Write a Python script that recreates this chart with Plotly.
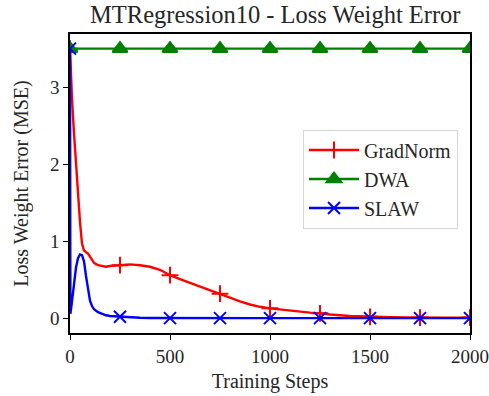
import numpy as np
import plotly.graph_objects as go

steps = [0, 2, 10, 20, 30, 40, 50, 60, 70, 80, 90, 100, 110, 120, 140, 160, 180, 200,
         250, 300, 350, 400, 450, 500, 550, 600, 650, 700, 750, 800, 850, 900, 950,
         1000, 1100, 1200, 1250, 1300, 1400, 1500, 1600, 1700, 1750, 1800, 1900, 2000]

gradnorm = [3.5, 3.35, 2.85, 2.4, 2.0, 1.6, 1.25, 0.97, 0.88, 0.86, 0.84, 0.80, 0.76, 0.72,
            0.69, 0.68, 0.67, 0.68, 0.69, 0.70, 0.69, 0.67, 0.63, 0.56, 0.51, 0.46, 0.41,
            0.36, 0.32, 0.27, 0.22, 0.18, 0.15, 0.13, 0.10, 0.075, 0.065, 0.05, 0.03,
            0.02, 0.015, 0.012, 0.01, 0.01, 0.01, 0.01]

dwa = [3.5] * len(steps)

slaw = [3.5, 0.06, 0.22, 0.46, 0.66, 0.78, 0.83, 0.82, 0.74, 0.55, 0.36, 0.23, 0.16, 0.12,
        0.08, 0.055, 0.04, 0.03, 0.02, 0.012, 0.008, 0.005, 0.004, 0.003, 0.003, 0.003,
        0.003, 0.003, 0.003, 0.003, 0.003, 0.003, 0.003, 0.003, 0.003, 0.003, 0.003,
        0.003, 0.003, 0.003, 0.003, 0.003, 0.003, 0.003, 0.003, 0.003]

names = ["GradNorm", "DWA", "SLAW"]
colors = ["red", "green", "blue"]
symbols = ["cross-thin-open", "triangle-up", "x-thin-open"]
series = [gradnorm, dwa, slaw]

FONT = "Liberation Serif"
TXT = "#262626"
fig = go.Figure()
x = np.array(steps)
mask = (x % 250 == 0)
for name, col, sym, ys in zip(names, colors, symbols, series):
    y = np.array(ys)
    fig.add_trace(go.Scatter(x=x, y=y, mode="lines", line=dict(color=col, width=2.4),
                             showlegend=False, hoverinfo="skip"))
    msize = 13 if sym == "triangle-up" else 12
    fig.add_trace(go.Scatter(x=x[mask], y=y[mask], mode="markers",
                             marker=dict(symbol=sym, size=msize, color=col,
                                         line=dict(color=col, width=2)),
                             showlegend=False))
    fig.add_trace(go.Scatter(x=[None], y=[None], mode="lines+markers", name=name,
                             line=dict(color=col, width=2.4),
                             marker=dict(symbol=sym, size=msize, color=col,
                                         line=dict(color=col, width=2))))

fig.update_layout(
    width=489, height=396,
    margin=dict(l=70, r=19, t=34, b=63),
    paper_bgcolor="white", plot_bgcolor="white",
    font=dict(family=FONT, size=19, color=TXT),
    title=dict(text="MTRegression10 - Loss Weight Error", x=0.563, xanchor="center",
               y=0.963, yanchor="middle", font=dict(family=FONT, size=24.5, color=TXT)),
    legend=dict(x=0.97, xanchor="right", y=0.515, yanchor="middle",
                bordercolor="#d6d6d6", borderwidth=1, bgcolor="white",
                font=dict(family=FONT, size=20, color=TXT), itemwidth=50,
                tracegroupgap=0),
)
fig.update_xaxes(range=[0, 2000], tickvals=[0, 500, 1000, 1500, 2000],
                 ticks="outside", ticklen=5, tickcolor="black", showgrid=False,
                 zeroline=False, showline=True, linecolor="black", linewidth=1.5, mirror=True,
                 automargin=False,
                 title=dict(text="Training Steps", font=dict(family=FONT, size=20, color=TXT), standoff=8),
                 tickfont=dict(family=FONT, size=19, color=TXT))
fig.update_yaxes(range=[-0.19, 3.69], tickvals=[0, 1, 2, 3],
                 ticks="outside", ticklen=5, tickcolor="black", showgrid=False,
                 zeroline=False, showline=True, linecolor="black", linewidth=1.5, mirror=True,
                 automargin=False,
                 title=dict(text="Loss Weight Error (MSE)", font=dict(family=FONT, size=20, color=TXT), standoff=16),
                 tickfont=dict(family=FONT, size=19, color=TXT))

fig.write_html("out.html")
